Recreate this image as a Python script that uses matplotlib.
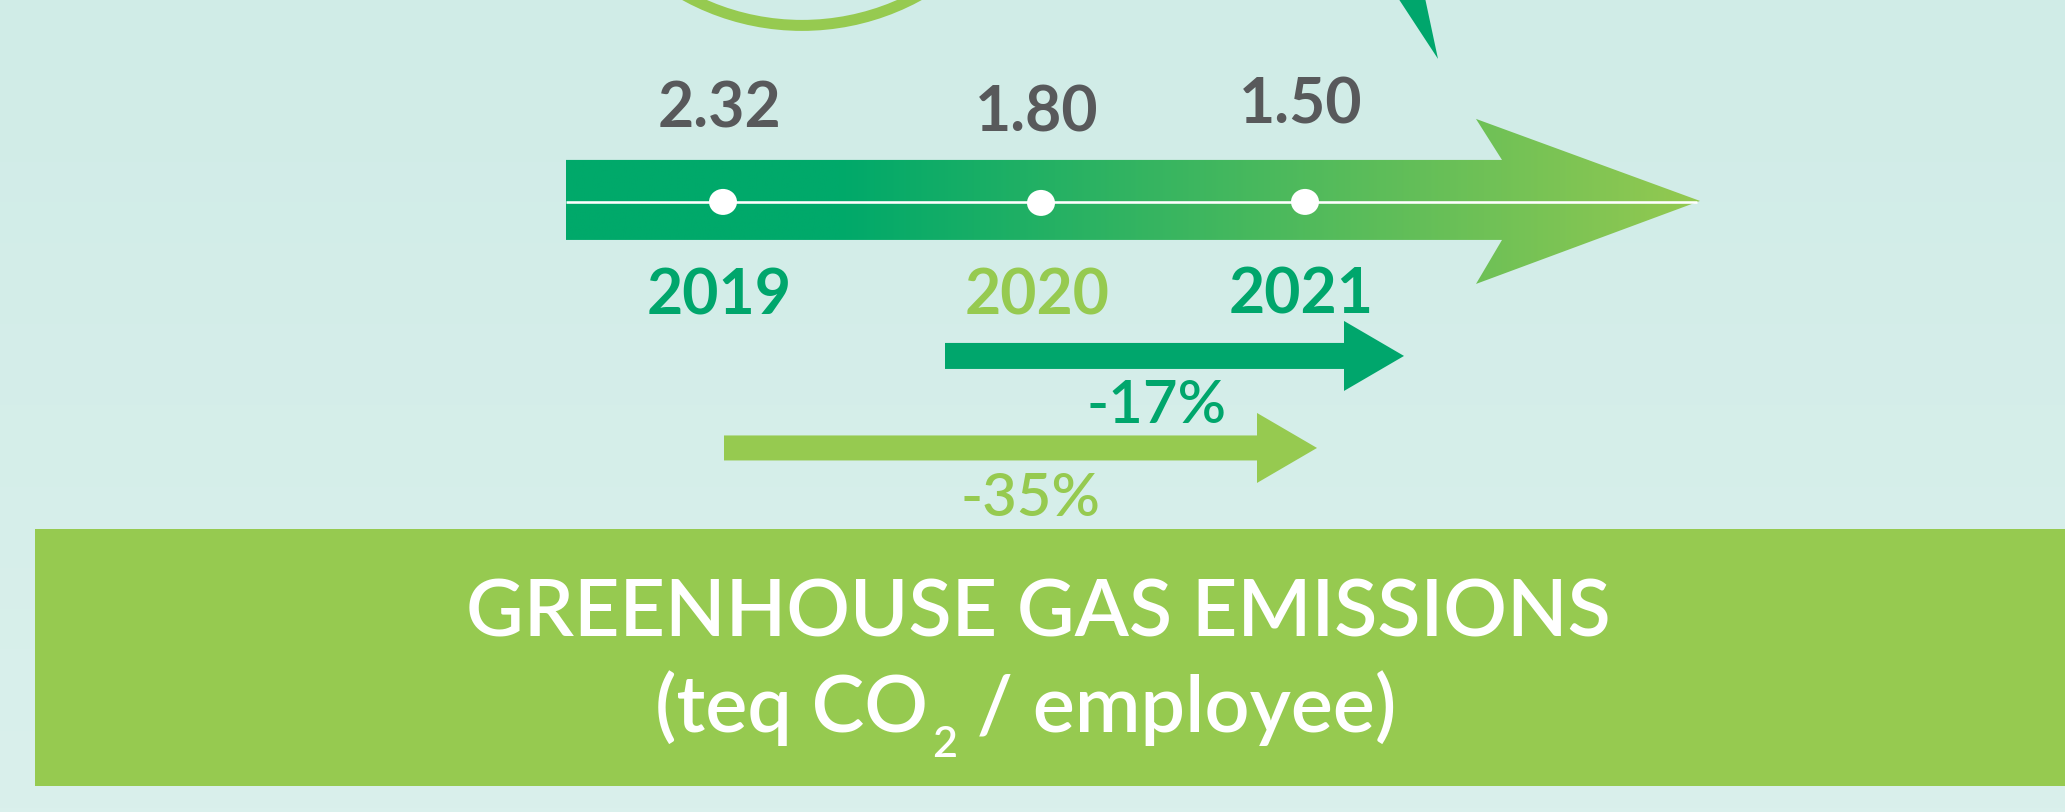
import numpy as np
import matplotlib; matplotlib.use("Agg")
import matplotlib.pyplot as plt
from matplotlib.patches import Polygon, Circle, Ellipse, Rectangle
from matplotlib.colors import to_rgb

# data
years = [2019, 2020, 2021]
values = [2.32, 1.80, 1.50]
year_colors = ["dark", "light", "dark"]
changes = [-17, -35]          # 2020->2021, 2019->2021
change_colors = ["dark", "light"]
title_1 = "GREENHOUSE GAS EMISSIONS"
title_2 = ("(teq CO", "2", " / employee)")

# layout (pixel space, y down)
W, H = 2065, 812
dot_x = [723, 1041, 1305]
dot_y = [202, 203, 202]
val_base = [127, 131, 123]
year_base = [314, 314, 313]

DARK = "#00a66c"
LIGHT = "#96ca50"
GREY = "#58595b"
cols = {"dark": DARK, "light": LIGHT}
FONT = "Lato"
px = 72 / 100  # px -> pt

fig = plt.figure(figsize=(W / 100, H / 100 + 0.001), dpi=100)
ax = fig.add_axes([0, 0, 1, 1])
ax.set_xlim(0, W); ax.set_ylim(H, 0); ax.axis("off")

# background (slight vertical gradient)
top, bot = np.array(to_rgb("#d0ece7")), np.array(to_rgb("#daf0ec"))
t = np.linspace(0, 1, 200)[:, None, None]
ax.imshow(top + (bot - top) * t, extent=[0, W, H, 0], aspect="auto", zorder=0)

# decorations cut by the top edge
ax.add_patch(Circle((802, -217), 242.5, fill=False, lw=11 * px, ec=LIGHT, zorder=1))
ax.add_patch(Polygon([(1398, -2), (1425, -2), (1438, 59)], closed=True, fc=DARK, ec="none", zorder=1))

# main gradient arrow
arrow = Polygon([(566, 160), (1502, 160), (1476, 119), (1700, 201), (1476, 284),
                 (1502, 240), (566, 240)], closed=True, fc="none", ec="none")
ax.add_patch(arrow)
xs = np.linspace(566, 1700, 600)
c0, c1 = np.array(to_rgb("#00a96a")), np.array(to_rgb("#94c950"))
f = np.clip((xs - 840) / (1700 - 840), 0, 1)[None, :, None]
ax.imshow(c0 + (c1 - c0) * f, extent=[566, 1700, 284, 119], aspect="auto",
          clip_path=arrow, clip_on=True, zorder=2)
ax.plot([566, 1697], [202, 202], color="white", lw=2.6 * px, solid_capstyle="butt", zorder=3)
for x, y in zip(dot_x, dot_y):
    ax.add_patch(Ellipse((x, y), 28, 26, fc="white", ec="none", zorder=4))

# values and years
for x, v, b in zip(dot_x, values, val_base):
    ax.text(x - 4, b, f"{v:.2f}", ha="center", va="baseline", fontsize=45,
            family=FONT, weight="bold", color=GREY, zorder=5)
for x, yr, b, c in zip(dot_x, years, year_base, year_colors):
    ax.text(x - 4, b, str(yr), ha="center", va="baseline", fontsize=45,
            family=FONT, weight="bold", color=cols[c], zorder=5)

# change arrows
def flat_arrow(x0, x1, xt, yc, half_body, half_head, color):
    ax.add_patch(Polygon([(x0, yc - half_body), (x1, yc - half_body), (x1, yc - half_head),
                          (xt, yc), (x1, yc + half_head), (x1, yc + half_body),
                          (x0, yc + half_body)], closed=True, fc=color, ec="none", zorder=3))

arrow_geo = [(945, 1344, 1404, 356, 13, 35), (724, 1257, 1317, 448, 12.5, 35)]
label_pos = [(1157, 423), (1030, 516)]
for ch, c, geo, (lx, lb) in zip(changes, change_colors, arrow_geo, label_pos):
    flat_arrow(*geo, cols[c])
    ax.text(lx, lb, f"{ch}%", ha="center", va="baseline", fontsize=43,
            family=FONT, weight="semibold", color=cols[c], zorder=5)

# banner
ax.add_patch(Rectangle((35, 529), W - 35, 257, fc=LIGHT, ec="none", zorder=2))
ax.text(1038, 636, title_1, ha="center", va="baseline", fontsize=57,
        family=FONT, weight="semibold", color="white", zorder=5)

r = fig.canvas.get_renderer()
kw = dict(ha="left", va="baseline", family=FONT, weight="semibold", color="white", zorder=5)
p1 = ax.text(0, 732, title_2[0], fontsize=57, **kw)
p2 = ax.text(0, 757, title_2[1], fontsize=31, **kw)
p3 = ax.text(0, 732, title_2[2], fontsize=57, **kw)
w1, w2, w3 = (p.get_window_extent(r).width for p in (p1, p2, p3))
gap = 4
x0 = 1026 - (w1 + gap + w2 + w3) / 2
p1.set_x(x0); p2.set_x(x0 + w1 + gap); p3.set_x(x0 + w1 + gap + w2)

fig.savefig("out.png", dpi=100)
